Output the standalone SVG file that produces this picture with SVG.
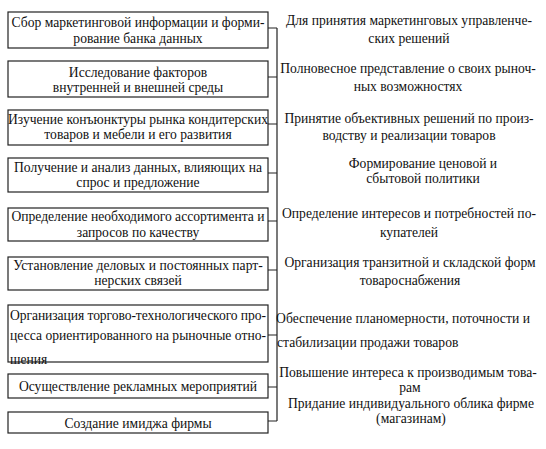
<svg xmlns="http://www.w3.org/2000/svg" width="546" height="449" viewBox="0 0 546 449">
<style>
.box{fill:#fff;stroke:#222;stroke-width:1.2}
.t{font-family:"Liberation Serif","Times New Roman",serif;font-size:13.6px;fill:#111;text-anchor:middle}
.l{text-anchor:start}
.c{fill:none;stroke:#222;stroke-width:1.2}
</style>
<rect width="546" height="449" fill="#fff"/>
<g id="connectors">
<path class="c" d="M277 28V421M268 28H277M268 77H277M268 124H277M268 173H277M268 221H277M268 270H277M268 335H277M268 387H277M268 421H277"/>
</g>
<g id="n1"><rect class="box" x="8" y="12" width="260" height="36"/><text class="t" x="138" y="27">Сбор маркетинговой информации и форми-</text><text class="t" x="138" y="43">рование банка данных</text></g>
<g id="n2"><rect class="box" x="8" y="61" width="260" height="36"/><text class="t" x="138" y="77">Исследование факторов</text><text class="t" x="138" y="92">внутренней и внешней среды</text></g>
<g id="n3"><rect class="box" x="8" y="110" width="260" height="35"/><text class="t" x="138" y="124">Изучение конъюнктуры рынка кондитерских</text><text class="t" x="138" y="139">товаров и мебели и его развития</text></g>
<g id="n4"><rect class="box" x="8" y="158" width="260" height="34"/><text class="t" x="138" y="172">Получение и анализ данных, влияющих на</text><text class="t" x="138" y="187">спрос и предложение</text></g>
<g id="n5"><rect class="box" x="8" y="208" width="260" height="33"/><text class="t" x="138" y="221">Определение необходимого ассортимента и</text><text class="t" x="138" y="237">запросов по качеству</text></g>
<g id="n6"><rect class="box" x="8" y="257" width="260" height="33"/><text class="t" x="138" y="270">Установление деловых и постоянных парт-</text><text class="t" x="138" y="285">нерских связей</text></g>
<g id="n7"><rect class="box" x="8" y="305" width="260" height="57"/><text class="t l" x="10" y="320" textLength="256" lengthAdjust="spacing">Организация торгово-технологического про-</text><text class="t l" x="10" y="340" textLength="256" lengthAdjust="spacing">цесса ориентированного на рыночные отно-</text><text class="t l" x="10" y="364">шения</text></g>
<g id="n8"><rect class="box" x="8" y="374" width="260" height="24"/><text class="t" x="138" y="391">Осуществление рекламных мероприятий</text></g>
<g id="n9"><rect class="box" x="8" y="412" width="260" height="21"/><text class="t" x="138" y="428">Создание имиджа фирмы</text></g>
<g id="r1"><text class="t" x="409" y="25">Для принятия маркетинговых управленче-</text><text class="t" x="409" y="43">ских решений</text></g>
<g id="r2"><text class="t" x="408" y="73">Полновесное представление о своих рыноч-</text><text class="t" x="408" y="91">ных возможностях</text></g>
<g id="r3"><text class="t" x="409" y="123">Принятие объективных решений по произ-</text><text class="t" x="409" y="140">водству и реализации товаров</text></g>
<g id="r4"><text class="t" x="423" y="168">Формирование ценовой и</text><text class="t" x="423" y="183">сбытовой политики</text></g>
<g id="r5"><text class="t" x="409" y="218">Определение интересов и потребностей по-</text><text class="t" x="409" y="237">купателей</text></g>
<g id="r6"><text class="t" x="410" y="267">Организация транзитной и складской форм</text><text class="t" x="410" y="285">товароснабжения</text></g>
<g id="r7"><text class="t l" x="276" y="323" textLength="254" lengthAdjust="spacing">Обеспечение планомерности, поточности и</text><text class="t l" x="277" y="347">стабилизации продажи товаров</text></g>
<g id="r8"><text class="t" x="408" y="377">Повышение интереса к производимым това-</text><text class="t" x="410" y="392">рам</text></g>
<g id="r9"><text class="t" x="411" y="408">Придание индивидуального облика фирме</text><text class="t" x="411" y="423">(магазинам)</text></g>
</svg>
